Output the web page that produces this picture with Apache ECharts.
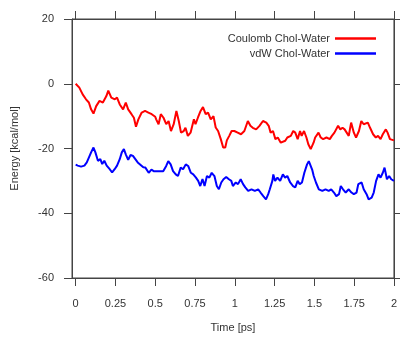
<!DOCTYPE html>
<html>
<head>
<meta charset="utf-8">
<script src="https://cdn.jsdelivr.net/npm/echarts@6/dist/echarts.min.js"></script>
<style>
    html, body { margin: 0; padding: 0; background: #fff; }
    #chart { width: 400px; height: 338px; }
</style>
</head>
<body>
<div id="chart"></div>
<script>
    // time [ps] / energy [kcal/mol]
    var coulombTime = [0, 0.023, 0.044, 0.065, 0.083, 0.097, 0.112, 0.129, 0.150, 0.171, 0.193, 0.205, 0.224, 0.246, 0.26, 0.277, 0.298, 0.315, 0.33, 0.351, 0.366, 0.379, 0.394, 0.415, 0.436, 0.457, 0.478, 0.50, 0.506, 0.521, 0.535, 0.552, 0.569, 0.584, 0.599, 0.616, 0.633, 0.648, 0.662, 0.679, 0.69, 0.705, 0.722, 0.743, 0.753, 0.768, 0.785, 0.80, 0.817, 0.832, 0.849, 0.866, 0.88, 0.895, 0.912, 0.927, 0.94, 0.95, 0.965, 0.98, 0.997, 1.018, 1.039, 1.06, 1.082, 1.098, 1.113, 1.134, 1.155, 1.177, 1.198, 1.213, 1.225, 1.24, 1.255, 1.27, 1.289, 1.30, 1.317, 1.33, 1.352, 1.367, 1.38, 1.395, 1.41, 1.42, 1.435, 1.45, 1.462, 1.477, 1.495, 1.505, 1.526, 1.54, 1.555, 1.576, 1.597, 1.61, 1.626, 1.649, 1.663, 1.677, 1.69, 1.70, 1.716, 1.731, 1.748, 1.762, 1.78, 1.795, 1.81, 1.82, 1.836, 1.85, 1.869, 1.886, 1.9, 1.916, 1.93, 1.949, 1.96, 1.975, 1.987, 2.0];
    var coulombEnergy = [0, -1.2, -3.3, -4.8, -5.8, -7.9, -9.2, -6.9, -5.3, -5.8, -3.8, -2.1, -4.3, -4.8, -4.3, -6.4, -7.9, -5.8, -7.9, -9.4, -10.5, -13.3, -11, -8.9, -8.4, -8.9, -9.4, -10.2, -11, -12.5, -9.4, -10.5, -12.5, -11.5, -14.6, -12.5, -8.4, -11.5, -15.1, -14.6, -13.6, -16.1, -15.1, -11, -12.5, -10.5, -8.4, -7.2, -9.4, -8.9, -11, -10, -13.5, -14.6, -17.1, -19.7, -19.7, -17.5, -16.1, -14.6, -14.6, -15.1, -15.6, -14.6, -11.5, -13, -13.6, -14.1, -13, -11.5, -12, -13, -15.1, -14.6, -17.1, -16.6, -18.2, -18.7, -17.6, -16.6, -16.1, -14.6, -15.1, -17.1, -14.6, -16.1, -14.6, -16.6, -18.7, -20.2, -18.2, -16.6, -15.1, -16.6, -17.1, -16.6, -17.1, -16.1, -15.1, -13, -14.1, -13.6, -14.1, -13.6, -16.1, -12, -15.1, -16.6, -14.6, -11.5, -12.5, -12.5, -12, -13.6, -15.6, -16.6, -16.1, -17.1, -15.6, -14.1, -15.1, -17.1, -17.6, -17.5];

    var vdwTime = [0, 0.013, 0.034, 0.055, 0.07, 0.083, 0.097, 0.112, 0.124, 0.14, 0.155, 0.167, 0.18, 0.195, 0.214, 0.229, 0.245, 0.26, 0.277, 0.29, 0.303, 0.315, 0.33, 0.345, 0.36, 0.375, 0.39, 0.40, 0.425, 0.438, 0.459, 0.476, 0.49, 0.512, 0.533, 0.55, 0.569, 0.582, 0.597, 0.612, 0.629, 0.643, 0.66, 0.675, 0.692, 0.707, 0.724, 0.739, 0.756, 0.77, 0.783, 0.797, 0.81, 0.825, 0.84, 0.855, 0.872, 0.887, 0.9, 0.915, 0.929, 0.946, 0.963, 0.978, 0.988, 1.006, 1.02, 1.037, 1.052, 1.066, 1.084, 1.105, 1.126, 1.147, 1.162, 1.179, 1.196, 1.21, 1.22, 1.236, 1.242, 1.253, 1.268, 1.285, 1.302, 1.316, 1.33, 1.348, 1.366, 1.38, 1.395, 1.408, 1.422, 1.437, 1.454, 1.465, 1.475, 1.486, 1.496, 1.51, 1.528, 1.55, 1.57, 1.59, 1.606, 1.623, 1.638, 1.655, 1.666, 1.68, 1.697, 1.716, 1.733, 1.748, 1.765, 1.776, 1.797, 1.81, 1.828, 1.841, 1.86, 1.873, 1.888, 1.903, 1.916, 1.93, 1.941, 1.956, 1.97, 1.983, 2.0];
    var vdwEnergy = [-25, -25.3, -25.6, -25.3, -24.3, -22.8, -21.2, -19.7, -21.2, -23.8, -23.3, -24.8, -23.8, -25.3, -26.4, -27.4, -26.4, -25.3, -23.3, -21.2, -20.2, -21.8, -23.5, -22, -22.3, -23.3, -24.3, -24.8, -25.8, -25.9, -27.5, -26.5, -27, -27, -27, -27, -25.4, -23.9, -24.9, -27, -28, -28.5, -25.9, -26.4, -24.9, -25.4, -27.5, -28, -29, -30, -31.6, -29.4, -31.6, -28.5, -29, -27.5, -28.5, -31.6, -32.6, -30.5, -29.5, -28.8, -29.5, -30, -31.6, -30.5, -31, -29.5, -31, -32, -33.1, -32.6, -33.1, -32.6, -33.6, -34.7, -35.7, -34.1, -32.6, -30, -28, -30, -29, -30, -28, -29, -28.5, -30.5, -31.6, -32, -30, -31, -30.5, -27.5, -24.9, -23.9, -23.9, -26.5, -28.5, -30.5, -32.6, -33.1, -32.6, -33.1, -32.6, -33.6, -34.7, -34.1, -31.6, -32.6, -33.6, -32.6, -33.6, -34.1, -33.6, -31, -30.5, -32.6, -34.1, -35.7, -35.2, -33.6, -30, -28, -29, -27.5, -25.9, -29.5, -28.5, -29.5, -30];

    var timeTicks = [0, 0.25, 0.5, 0.75, 1, 1.25, 1.5, 1.75, 2];
    var seriesNames = ['Coulomb Chol-Water', 'vdW Chol-Water'];

    function pairs(xs, ys) {
        return xs.map(function (x, i) { return [x, ys[i]]; });
    }

    var axisColor = '#444';
    var font = 'Liberation Sans, Arial, sans-serif';

    var chart = echarts.init(document.getElementById('chart'));
    chart.setOption({
        animation: false,
        backgroundColor: '#fff',
        textStyle: { fontFamily: font },
        legend: {
            data: seriesNames,
            orient: 'vertical',
            align: 'right',
            right: 19,
            top: 28,
            icon: 'rect',
            itemWidth: 41,
            itemHeight: 2.5,
            itemGap: 4,
            textStyle: { fontSize: 11, color: '#333', fontFamily: font }
        },
        grid: {
            show: true,
            left: 72,
            right: 5,
            top: 19,
            bottom: 58,
            borderColor: axisColor,
            borderWidth: 1,
            backgroundColor: 'transparent'
        },
        xAxis: [{
            type: 'value',
            position: 'bottom',
            min: -0.023,
            max: 2,
            name: 'Time [ps]',
            nameLocation: 'middle',
            nameGap: 44,
            nameTextStyle: { fontSize: 11, color: '#333' },
            axisLine: { show: true, onZero: false, lineStyle: { color: axisColor } },
            axisTick: { show: true, inside: false, length: 8, customValues: timeTicks, lineStyle: { color: axisColor } },
            axisLabel: {
                margin: 20,
                fontSize: 11,
                color: '#333',
                customValues: timeTicks,
                formatter: function (v) { return String(v); }
            },
            splitLine: { show: false }
        }, {
            type: 'value',
            position: 'top',
            min: -0.023,
            max: 2,
            axisLine: { show: true, onZero: false, lineStyle: { color: axisColor } },
            axisTick: { show: true, inside: false, length: 8, customValues: timeTicks, lineStyle: { color: axisColor } },
            axisLabel: { show: false },
            splitLine: { show: false }
        }],
        yAxis: [{
            type: 'value',
            position: 'left',
            min: -60,
            max: 20,
            interval: 20,
            name: 'Energy [kcal/mol]',
            nameLocation: 'middle',
            nameGap: 52,
            nameTextStyle: { fontSize: 11, color: '#333' },
            axisLine: { show: true, onZero: false, lineStyle: { color: axisColor } },
            axisTick: { show: true, inside: false, length: 8, lineStyle: { color: axisColor } },
            axisLabel: { margin: 18, fontSize: 11, color: '#333' },
            splitLine: { show: false }
        }, {
            type: 'value',
            position: 'right',
            min: -60,
            max: 20,
            interval: 20,
            axisLine: { show: true, onZero: false, lineStyle: { color: axisColor } },
            axisTick: { show: true, inside: false, length: 8, lineStyle: { color: axisColor } },
            axisLabel: { show: false },
            splitLine: { show: false }
        }],
        series: [{
            name: seriesNames[0],
            type: 'line',
            symbol: 'none',
            color: '#ff0000',
            lineStyle: { width: 2, color: '#ff0000' },
            data: pairs(coulombTime, coulombEnergy)
        }, {
            name: seriesNames[1],
            type: 'line',
            symbol: 'none',
            color: '#0000ff',
            lineStyle: { width: 2, color: '#0000ff' },
            data: pairs(vdwTime, vdwEnergy)
        }]
    });
</script>
</body>
</html>
